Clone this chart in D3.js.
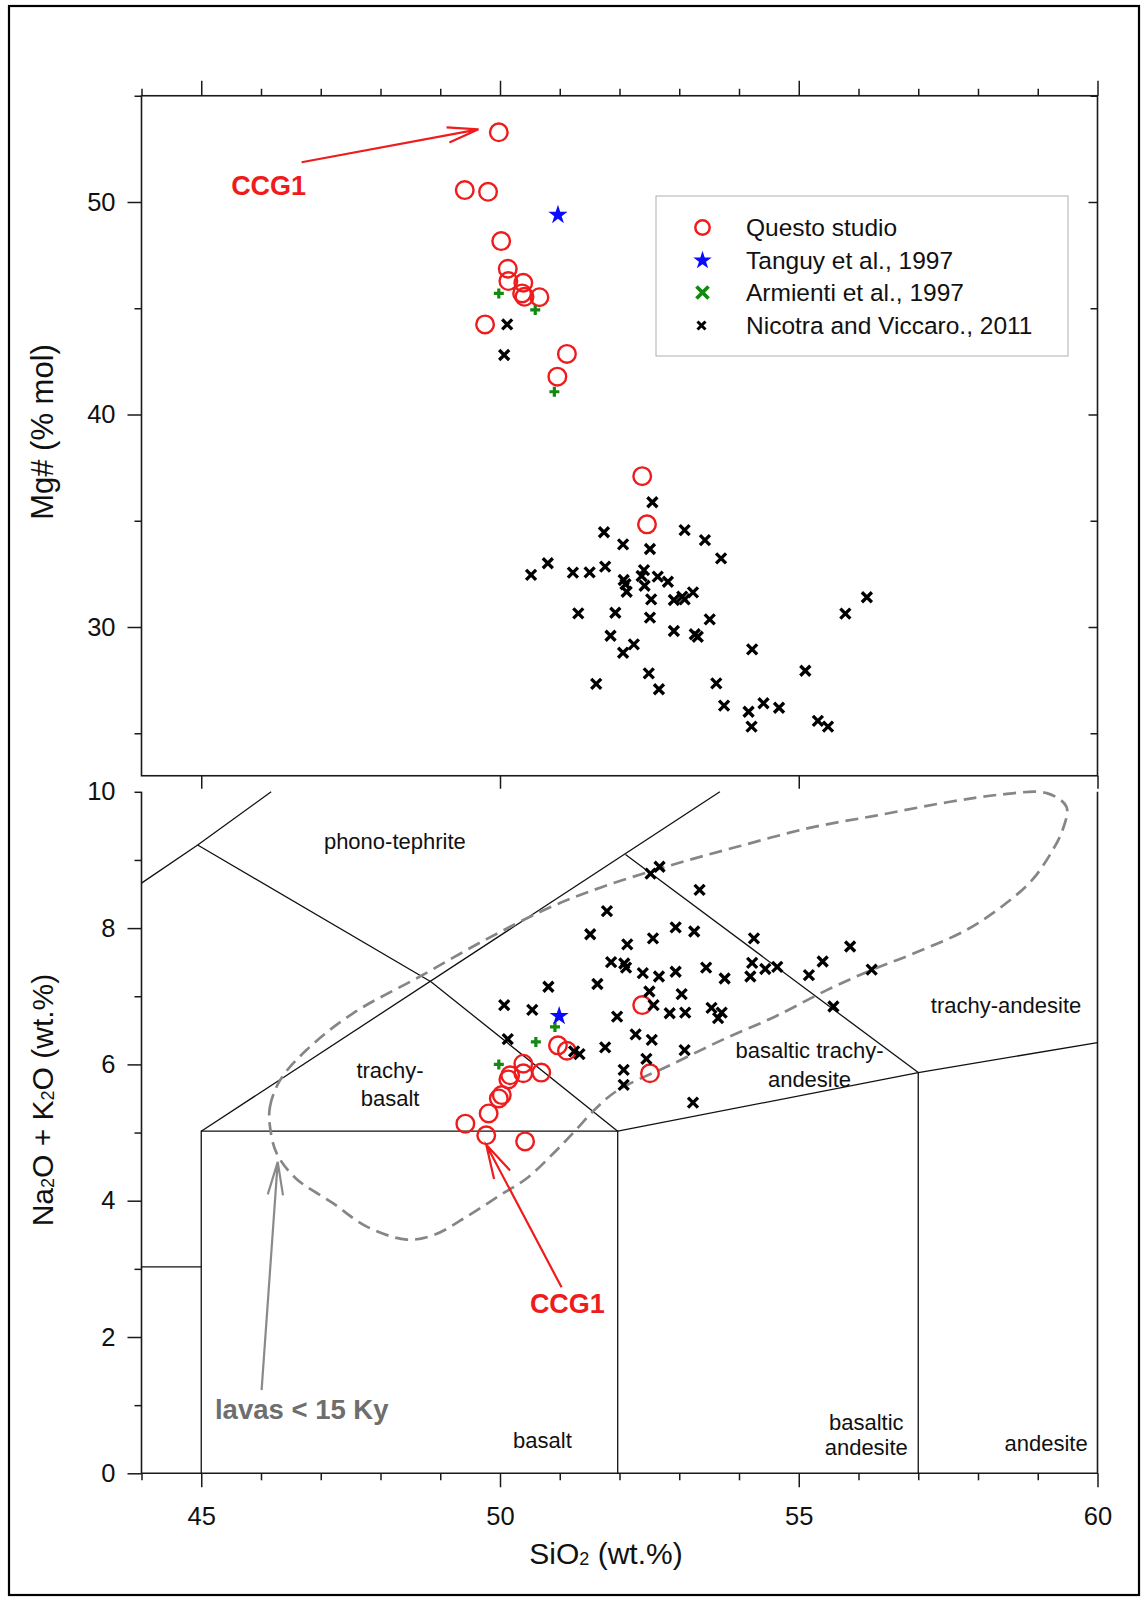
<!DOCTYPE html>
<html>
<head>
<meta charset="utf-8">
<script src="https://cdn.jsdelivr.net/npm/d3@7"></script>
<style>
  body { margin: 0; background: #fff; }
  svg text { font-family: "Liberation Sans", Arial, Helvetica, sans-serif; }
</style>
</head>
<body>
<svg id="chart" width="1145" height="1600"></svg>
<script>
// ---------- Data: Mg# vs SiO2 ----------
const studySiO2Mg = [49.98, 49.41, 49.80, 50.02, 50.13, 50.14, 50.39, 50.37, 50.41, 50.66, 49.75, 51.12, 50.96, 52.38, 52.46];
const studyMg     = [53.28, 50.56, 50.48, 48.16, 46.86, 46.28, 46.20, 45.70, 45.54, 45.52, 44.24, 42.85, 41.78, 37.10, 34.83];

const tanguySiO2Mg = [50.97];
const tanguyMg     = [49.39];

const armientiSiO2Mg = [49.98, 50.59, 50.91];
const armientiMg     = [45.70, 44.92, 41.07];

const nicotraSiO2Mg = [50.12, 50.07, 52.55, 51.74, 53.09, 53.43, 52.06, 52.51, 53.70, 50.80, 50.52, 51.22, 51.50,
                       51.76, 52.41, 52.37, 52.07, 52.10, 52.64, 52.81, 52.42, 52.12, 53.23, 53.05, 52.91, 53.09,
                       52.53, 51.31, 51.93, 52.51, 53.51, 55.78, 56.14, 51.85, 52.24, 52.06, 52.91, 53.26, 53.31,
                       54.22, 55.11, 52.49, 52.66, 51.61, 53.62, 53.75, 54.41, 54.67, 54.16, 54.21, 55.32, 55.49];
const nicotraMg     = [44.24, 42.80, 35.87, 34.46, 34.56, 34.09, 33.89, 33.67, 33.23, 33.00, 32.45, 32.56, 32.57,
                       32.84, 32.68, 32.40, 32.21, 32.01, 32.37, 32.13, 31.94, 31.66, 31.63, 31.43, 31.27, 31.30,
                       31.30, 30.64, 30.67, 30.44, 30.36, 30.63, 31.40, 29.59, 29.18, 28.79, 29.81, 29.66, 29.54,
                       28.95, 27.94, 27.82, 27.07, 27.32, 27.35, 26.30, 26.41, 26.20, 26.01, 25.31, 25.58, 25.31];

// ---------- Data: total alkali vs silica ----------
const studySiO2Tas = [49.42, 49.77, 50.42, 49.81, 49.98, 50.03, 50.14, 50.17, 50.39, 50.39, 50.69, 50.97, 51.12, 52.38, 52.51];
const studyAlk     = [5.13, 4.96, 4.87, 5.28, 5.50, 5.55, 5.78, 5.84, 6.01, 5.87, 5.88, 6.28, 6.20, 6.87, 5.87];

const tanguySiO2Tas = [50.99];
const tanguyAlk     = [6.71];

const armientiSiO2Tas = [49.98, 50.60, 50.92];
const armientiAlk     = [6.00, 6.33, 6.55];

const nicotraSiO2Tas = [52.52, 52.67, 53.34, 51.79, 51.51, 52.94, 53.25, 52.13, 52.56, 54.25, 51.86, 52.08, 52.11,
                        52.39, 52.66, 52.94, 53.45, 53.76, 54.22, 54.19, 54.44, 54.64, 50.81, 51.63, 52.50, 53.04,
                        52.57, 52.84, 53.10, 53.54, 53.71, 53.65, 50.07, 50.54, 51.96, 52.27, 52.54, 51.76, 53.09,
                        52.45, 50.13, 51.24, 51.33, 52.07, 52.07, 53.23, 55.86, 55.40, 55.17, 56.22, 55.58];
const nicotraAlk     = [8.80, 8.90, 8.56, 8.25, 7.91, 8.01, 7.95, 7.76, 7.85, 7.85, 7.50, 7.48, 7.42,
                        7.34, 7.29, 7.36, 7.42, 7.26, 7.49, 7.29, 7.40, 7.43, 7.14, 7.18, 7.07, 7.03,
                        6.87, 6.75, 6.76, 6.83, 6.76, 6.68, 6.87, 6.80, 6.70, 6.44, 6.36, 6.25, 6.21,
                        6.08, 6.37, 6.19, 6.15, 5.92, 5.70, 5.44, 7.73, 7.51, 7.31, 7.39, 6.85];

// Field of lavas younger than 15 ky (closed outline)
const fieldSiO2 = [46.15, 46.15, 46.32, 46.76, 47.54, 48.66, 49.80, 50.90, 51.70, 52.85, 54.00, 55.18, 56.35, 57.51,
                   58.39, 59.15, 59.48, 59.42, 59.22, 58.90, 58.39, 57.80, 56.93, 56.23, 55.47, 54.60, 53.72, 52.85,
                   51.97, 51.60, 51.23, 50.90, 50.45, 50.00, 49.45, 48.90, 48.44, 47.77, 47.21, 46.58, 46.26];
const fieldAlk  = [5.09, 5.38, 5.77, 6.21, 6.75, 7.29, 7.85, 8.33, 8.60, 8.92, 9.20, 9.47, 9.66, 9.85,
                   9.96, 9.98, 9.78, 9.45, 9.10, 8.70, 8.31, 7.97, 7.63, 7.39, 7.09, 6.70, 6.36, 5.99,
                   5.62, 5.35, 5.00, 4.70, 4.33, 4.08, 3.77, 3.50, 3.43, 3.62, 3.96, 4.33, 4.70];

// TAS classification boundaries as [SiO2, Na2O+K2O] vertices
const tephriteEdge       = [[44, 8.66], [44.94, 9.22], [46.17, 10]];
const phonoTephriteEdge  = [[44.94, 9.22], [48.85, 7.21], [51.97, 5.02]];
const trachybasaltEdge   = [[45, 5.02], [53.68, 10]];
const btaEdge            = [[52.1, 9.08], [57, 5.88]];
const trachyandesiteBase = [[51.97, 5.02], [57, 5.88], [60, 6.32]];
const basaltBox          = [[45, 0], [45, 5.02], [51.97, 5.02], [51.97, 0]];
const andesiteEdge       = [[57, 0], [57, 5.88]];
const picrobasaltEdge    = [[44, 3.03], [45, 3.03]];

// Field names
const fieldNames  = ["phono-tephrite", "trachy-", "basalt", "basaltic trachy-", "andesite", "trachy-andesite",
                     "basalt", "basaltic", "andesite", "andesite"];
const fieldNameX  = [48.24, 48.16, 48.16, 55.18, 55.18, 58.47, 50.71, 56.13, 56.13, 59.14];
const fieldNameY  = [9.16, 5.80, 5.39, 6.09, 5.67, 6.75, 0.37, 0.635, 0.27, 0.32];

// Legend
const legendNames = ["Questo studio", "Tanguy et al., 1997", "Armienti et al., 1997", "Nicotra and Viccaro., 2011"];

// Ticks
const mgTicks    = [25, 30, 35, 40, 45, 50, 55];
const mgLabels   = [30, 40, 50];
const silicaTicks = d3.range(44, 61, 1);
const silicaLabels = [45, 50, 55, 60];
const alkTicks   = d3.range(0, 11, 1);
const alkLabels  = [0, 2, 4, 6, 8, 10];

// Annotation arrows: [tail, tip]
const ccgMgArrow  = [[46.68, 51.87], [49.64, 53.42]];
const ccgTasArrow = [[51.03, 2.73], [49.77, 4.82]];
const lavasArrow  = [[46.01, 1.22], [46.28, 4.57]];

// ---------- Layout ----------
const svg = d3.select("#chart");
const x    = d3.scaleLinear().domain([44, 60]).range([141.5, 1097.5]);
const yMg  = d3.scaleLinear().domain([23, 55]).range([775.75, 95.75]);
const yTas = d3.scaleLinear().domain([0, 10]).range([1473.3, 791.8]);

const RED = "#ee1c1c", BLUE = "#0a0aff", GREEN = "#128a12", AX = "#1a1a1a";

svg.append("rect").attr("width", 1145).attr("height", 1600).attr("fill", "#fff");
// outer frame
svg.append("rect").attr("x", 9).attr("y", 6).attr("width", 1130).attr("height", 1589)
  .attr("fill", "none").attr("stroke", "#000").attr("stroke-width", 2.2);

// ---------- Axis helper ----------
function drawAxis(gen, scale, ticks, labels, majors, majorLen, minorLen, padding, tx, ty, vertical) {
  const g = svg.append("g")
    .attr("transform", `translate(${tx},${ty})`)
    .call(gen(scale).tickValues(ticks).tickSizeOuter(0).tickSizeInner(majorLen).tickPadding(padding)
      .tickFormat(d => labels.includes(d) ? String(d) : ""));
  g.attr("font-size", 25.5).attr("font-family", null).attr("color", AX);
  g.select(".domain").remove();
  g.selectAll(".tick line").attr("stroke-width", 1.5).each(function (d) {
    if (!majors.includes(d)) {
      const l = d3.select(this), a = vertical ? "x2" : "y2";
      l.attr(a, +l.attr(a) * minorLen / majorLen);
    }
  });
  g.selectAll(".tick text").attr("fill", "#111");
  return g;
}

// ---------- Upper panel: Mg# ----------
svg.append("rect")
  .attr("x", x(44)).attr("y", yMg(55)).attr("width", x(60) - x(44)).attr("height", yMg(23) - yMg(55))
  .attr("fill", "none").attr("stroke", AX).attr("stroke-width", 1.6);

drawAxis(d3.axisLeft, yMg, mgTicks, mgLabels, mgLabels, 14, 7, 12, x(44), 0, true);
drawAxis(d3.axisRight, yMg, mgTicks, [], mgLabels, -9, -7, 3, x(60), 0, true);
drawAxis(d3.axisTop, x, silicaTicks, [], silicaLabels, 15, 7, 3, 0, yMg(55), false);
drawAxis(d3.axisBottom, x, silicaLabels, [], silicaLabels, 13, 13, 3, 0, yMg(23), false);

// ---------- Lower panel: TAS ----------
svg.append("path")
  .attr("d", `M${x(44)},${yTas(10)}V${yTas(0)}H${x(60)}V${yTas(10)}`)
  .attr("fill", "none").attr("stroke", AX).attr("stroke-width", 1.6);

drawAxis(d3.axisLeft, yTas, alkTicks, alkLabels, [0, 2, 4, 6, 8], 14, 7, 12, x(44), 0, true);
drawAxis(d3.axisBottom, x, silicaTicks, silicaLabels, silicaLabels, 14, 7, 20, 0, yTas(0), false);

const tasLine = d3.line().x(d => x(d[0])).y(d => yTas(d[1]));
[tephriteEdge, phonoTephriteEdge, trachybasaltEdge, btaEdge, trachyandesiteBase, basaltBox, andesiteEdge, picrobasaltEdge]
  .forEach(pts => svg.append("path").attr("d", tasLine(pts))
    .attr("fill", "none").attr("stroke", "#111").attr("stroke-width", 1.3));

// field names
svg.append("g").selectAll("text").data(fieldNames).join("text")
  .attr("x", (d, i) => x(fieldNameX[i])).attr("y", (d, i) => yTas(fieldNameY[i]))
  .attr("text-anchor", "middle").attr("font-size", 22).attr("fill", "#111")
  .text(d => d);

// lavas < 15 ky outline
const fieldPts = fieldSiO2.map((s, i) => [s, fieldAlk[i]]);
svg.append("path")
  .attr("d", d3.line().x(d => x(d[0])).y(d => yTas(d[1])).curve(d3.curveCatmullRomClosed.alpha(0.5))(fieldPts))
  .attr("fill", "none").attr("stroke", "#868686").attr("stroke-width", 2.7).attr("stroke-dasharray", "13,7");

// ---------- Marker helpers ----------
function drawX(g, cx, cy, r, color, w) {
  g.append("path").attr("d", `M${cx - r},${cy - r}L${cx + r},${cy + r}M${cx - r},${cy + r}L${cx + r},${cy - r}`)
    .attr("stroke", color).attr("stroke-width", w).attr("fill", "none");
}
function drawPlus(g, cx, cy, r, color, w) {
  g.append("path").attr("d", `M${cx - r},${cy}H${cx + r}M${cx},${cy - r}V${cy + r}`)
    .attr("stroke", color).attr("stroke-width", w).attr("fill", "none");
}
function drawStar(g, cx, cy, size, color) {
  g.append("path").attr("d", d3.symbol(d3.symbolStar, size)())
    .attr("transform", `translate(${cx},${cy})`).attr("fill", color);
}
function drawCircle(g, cx, cy, r, color, w) {
  g.append("circle").attr("cx", cx).attr("cy", cy).attr("r", r)
    .attr("fill", "none").attr("stroke", color).attr("stroke-width", w);
}

function drawPanel(yScale, studyX, studyY, nicX, nicY, armX, armY, tanX, tanY) {
  const g = svg.append("g");
  studyX.forEach((s, i) => drawCircle(g, x(s), yScale(studyY[i]), 8.8, RED, 2.4));
  nicX.forEach((s, i) => drawX(g, x(s), yScale(nicY[i]), 5, "#000", 3.3));
  armX.forEach((s, i) => drawPlus(g, x(s), yScale(armY[i]), 5, GREEN, 3.2));
  tanX.forEach((s, i) => drawStar(g, x(s), yScale(tanY[i]), 115, BLUE));
}
drawPanel(yMg, studySiO2Mg, studyMg, nicotraSiO2Mg, nicotraMg, armientiSiO2Mg, armientiMg, tanguySiO2Mg, tanguyMg);
drawPanel(yTas, studySiO2Tas, studyAlk, nicotraSiO2Tas, nicotraAlk, armientiSiO2Tas, armientiAlk, tanguySiO2Tas, tanguyAlk);

// ---------- Annotations ----------
function arrow(pts, yScale, color, len, halfAngle, w) {
  const [t, h] = pts;
  const x0 = x(t[0]), y0 = yScale(t[1]), x1 = x(h[0]), y1 = yScale(h[1]);
  const ang = Math.atan2(y0 - y1, x0 - x1), a = halfAngle * Math.PI / 180;
  const p1 = [x1 + len * Math.cos(ang + a), y1 + len * Math.sin(ang + a)];
  const p2 = [x1 + len * Math.cos(ang - a), y1 + len * Math.sin(ang - a)];
  svg.append("path")
    .attr("d", `M${x0},${y0}L${x1},${y1}M${p1[0]},${p1[1]}L${x1},${y1}L${p2[0]},${p2[1]}`)
    .attr("fill", "none").attr("stroke", color).attr("stroke-width", w);
}
arrow(ccgMgArrow, yMg, RED, 32, 14, 2.2);
arrow(ccgTasArrow, yTas, RED, 35, 15, 2.2);
arrow(lavasArrow, yTas, "#8a8a8a", 34, 13, 2.2);

svg.append("text").attr("x", x(45.5)).attr("y", yMg(50.33))
  .attr("font-size", 27).attr("font-weight", "bold").attr("fill", RED).text("CCG1");
svg.append("text").attr("x", x(50.5)).attr("y", yTas(2.35))
  .attr("font-size", 27).attr("font-weight", "bold").attr("fill", RED).text("CCG1");
svg.append("text").attr("x", x(45.23)).attr("y", yTas(0.8))
  .attr("font-size", 27.5).attr("font-weight", "bold").attr("fill", "#6e6e6e").text("lavas < 15 Ky");

// ---------- Legend ----------
const lg = svg.append("g");
lg.append("rect").attr("x", 656).attr("y", 196).attr("width", 412).attr("height", 160)
  .attr("fill", "#fff").attr("stroke", "#bdbdbd").attr("stroke-width", 1.2);
const rowY = [227.5, 260.5, 292.5, 325.5];
drawCircle(lg, 702.5, rowY[0], 7.2, RED, 2.5);
drawStar(lg, 702.5, rowY[1], 105, BLUE);
drawX(lg, 702.5, rowY[2], 6, GREEN, 3.8);
drawX(lg, 701.5, rowY[3], 4, "#000", 3);
lg.selectAll("text.lg").data(legendNames).join("text").attr("class", "lg")
  .attr("x", 746).attr("y", (d, i) => rowY[i] + 8.5)
  .attr("font-size", 24.5).attr("fill", "#111").text(d => d);

// ---------- Axis titles ----------
svg.append("text").attr("transform", "translate(53,432) rotate(-90)")
  .attr("text-anchor", "middle").attr("font-size", 31).attr("fill", "#111").text("Mg# (% mol)");

const tasTitle = svg.append("text").attr("transform", "translate(53,1100) rotate(-90)")
  .attr("text-anchor", "middle").attr("font-size", 30).attr("fill", "#111");
tasTitle.append("tspan").text("Na");
tasTitle.append("tspan").attr("font-size", 18).attr("dy", 1).text("2");
tasTitle.append("tspan").attr("dy", -1).text("O + K");
tasTitle.append("tspan").attr("font-size", 18).attr("dy", 1).text("2");
tasTitle.append("tspan").attr("dy", -1).text("O (wt.%)");

const siTitle = svg.append("text").attr("x", 606).attr("y", 1564)
  .attr("text-anchor", "middle").attr("font-size", 30).attr("fill", "#111");
siTitle.append("tspan").text("SiO");
siTitle.append("tspan").attr("font-size", 18).attr("dy", 1).text("2");
siTitle.append("tspan").attr("dy", -1).text(" (wt.%)");
</script>
</body>
</html>
